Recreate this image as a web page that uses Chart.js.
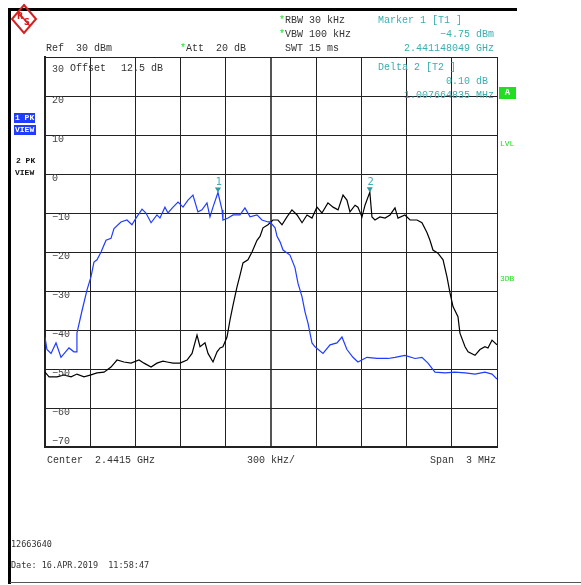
<!DOCTYPE html>
<html>
<head>
<meta charset="utf-8">
<script src="https://cdn.jsdelivr.net/npm/chart.js@4"></script>
<style>
  html, body { margin: 0; padding: 0; background: #fff; }
  #wrap { width: 581px; height: 585px; position: relative; }
</style>
</head>
<body>
<div id="wrap"><canvas id="sa" width="581" height="585"></canvas></div>
<script>
// frequency offsets in MHz from 2.440 GHz (span 3 MHz), levels in dBm
var trace1Freq = [0, 0.013, 0.040, 0.073, 0.106, 0.159, 0.192, 0.206, 0.212, 0.246, 0.279, 0.305, 0.325, 0.345, 0.372,
  0.405, 0.438, 0.458, 0.504, 0.544, 0.577, 0.604, 0.644, 0.670, 0.704, 0.743, 0.763, 0.796, 0.816, 0.850, 0.883,
  0.916, 0.949, 0.982, 1.015, 1.042, 1.075, 1.095, 1.115, 1.148, 1.175, 1.181, 1.215, 1.248, 1.294, 1.327, 1.361,
  1.407, 1.440, 1.480, 1.493, 1.527, 1.540, 1.560, 1.580, 1.626, 1.659, 1.679, 1.706, 1.726, 1.746, 1.772, 1.792,
  1.845, 1.892, 1.938, 1.971, 2.004, 2.044, 2.077, 2.137, 2.204, 2.277, 2.323, 2.389, 2.456, 2.502, 2.542, 2.588,
  2.655, 2.721, 2.788, 2.854, 2.920, 2.967, 3.0];
var trace1Level = [-41.8, -45, -46, -43.3, -47, -44.6, -45.6, -45.6, -40.8, -35, -29.7, -26.4, -22.6, -22, -20,
  -17, -16.5, -14, -12.3, -11.8, -13, -11.3, -9, -10, -12.5, -10.5, -11.3, -8.5, -10, -8.5, -7.2,
  -8.5, -6.7, -5.4, -9.7, -9.2, -7.4, -11, -8.5, -4.75, -9.2, -11.8, -11.3, -10.5, -10.5, -8.7, -11,
  -10.5, -11.8, -12.3, -12.3, -13.8, -16, -17.4, -19.5, -20.8, -24, -28, -31.5, -35.4, -38.3, -43.3, -44.3,
  -46, -43.8, -43.3, -41.8, -45, -47, -48.2, -47, -47.3, -47.3, -47, -46.5, -47.3, -47, -48.5, -50.8,
  -51, -50.8, -51, -51.3, -50.8, -51.3, -52.6];

var trace2Freq = [0, 0.027, 0.080, 0.126, 0.173, 0.212, 0.259, 0.305, 0.345, 0.392, 0.438, 0.478, 0.524, 0.571,
  0.624, 0.657, 0.704, 0.743, 0.783, 0.810, 0.850, 0.896, 0.943, 0.976, 1.009, 1.029, 1.062, 1.082, 1.115, 1.142,
  1.162, 1.181, 1.208, 1.228, 1.248, 1.274, 1.294, 1.314, 1.347, 1.374, 1.407, 1.427, 1.447, 1.480, 1.513, 1.546,
  1.573, 1.606, 1.639, 1.673, 1.706, 1.739, 1.772, 1.805, 1.838, 1.878, 1.912, 1.945, 1.978, 2.004, 2.024, 2.058,
  2.077, 2.104, 2.124, 2.156, 2.170, 2.190, 2.223, 2.257, 2.290, 2.323, 2.343, 2.389, 2.423, 2.469, 2.502, 2.535,
  2.555, 2.575, 2.608, 2.642, 2.668, 2.688, 2.708, 2.741, 2.754, 2.788, 2.808, 2.854, 2.887, 2.920, 2.940, 2.967, 3.0];
var trace2Level = [-50.8, -52, -52, -51.5, -52, -51.3, -52, -51.5, -51, -50.8, -49.5, -47.7, -48.2, -48.5,
  -47.7, -48.5, -49.5, -48.5, -48, -48.2, -48.5, -48.5, -47.7, -46, -41.3, -44.3, -43.3, -46, -48.2, -45.6,
  -44.6, -44.3, -41.8, -37.4, -33.6, -29, -26, -22.8, -22, -20, -17, -16, -13.8, -13, -11.8, -11.8,
  -13, -11, -9.2, -10.5, -12.5, -10.5, -11.3, -8.5, -10, -7.4, -8.5, -9.2, -5.4, -6.7, -9.7, -8,
  -8.5, -11, -8, -4.65, -11, -11.8, -11, -11.3, -10.5, -8.7, -11.3, -10.5, -11.8, -11.8, -12.5, -15,
  -17, -19.5, -20.3, -22, -26.4, -30.5, -34, -36.6, -40.8, -44.3, -45.6, -46.5, -45, -44.3, -44.6, -42.6, -43.8];

var yTickLabels = [30, 20, 10, 0, -10, -20, -30, -40, -50, -60, -70];
var markerFreq = [1.148049, 2.155714];
var markerLevel = [-4.75, -4.65];
var markerNames = ["1", "2"];

function toPoints(xs, ys) {
  var pts = [];
  for (var i = 0; i < xs.length; i++) pts.push({ x: xs[i], y: ys[i] });
  return pts;
}

var MONO = "10px 'Liberation Mono', monospace";
var TEAL = "#3aaeb0";
var GREEN = "#22dd22";

var overlay = {
  id: "overlay",
  afterDatasetsDraw: function (chart) {
    var c = chart.ctx, xs = chart.scales.x, ys = chart.scales.y;
    c.save();
    // y labels inside plot
    c.font = "10px 'Liberation Mono', monospace";
    c.fillStyle = "#444";
    c.textBaseline = "middle";
    c.textAlign = "left";
    yTickLabels.forEach(function (v, i) {
      var py = ys.getPixelForValue(v);
      if (v === 30) py += 12;
      else if (v === -70) py -= 6;
      else py += 4;
      var s = v < 0 ? "\u2212" + Math.abs(v) : String(v);
      c.fillText(s, 52, py);
    });
    c.fillStyle = "#333";
    c.fillText("Offset", 70, ys.getPixelForValue(30) + 11);
    c.fillText("12.5 dB", 121, ys.getPixelForValue(30) + 11);
    // markers
    for (var i = 0; i < markerFreq.length; i++) {
      var px = xs.getPixelForValue(markerFreq[i]);
      var py = ys.getPixelForValue(markerLevel[i]);
      c.fillStyle = "#2a9a9a";
      c.beginPath();
      c.moveTo(px - 3, py - 5);
      c.lineTo(px + 3, py - 5);
      c.lineTo(px, py);
      c.closePath();
      c.fill();
      c.fillStyle = TEAL;
      c.font = "10px 'DejaVu Sans', sans-serif";
      c.textAlign = "center";
      c.fillText(markerNames[i], px + 1, py - 10);
    }
    c.restore();
  },
  afterDraw: function (chart) {
    var c = chart.ctx;
    c.save();
    // page frame
    c.fillStyle = "#000";
    c.fillRect(8, 8, 509, 3);
    c.fillRect(8, 8, 3, 576);
    c.fillStyle = "#555";
    c.fillRect(10, 582, 571, 1);
    // logo
    c.strokeStyle = "#d42020";
    c.lineWidth = 2;
    c.beginPath();
    c.moveTo(24, 5); c.lineTo(36, 19); c.lineTo(24, 33); c.lineTo(12, 19); c.closePath();
    c.stroke();
    c.lineWidth = 1.5;
    c.beginPath();
    c.moveTo(18, 12); c.lineTo(30, 26);
    c.stroke();
    c.fillStyle = "#d42020";
    c.font = "bold 8px 'DejaVu Sans', sans-serif";
    c.textAlign = "center";
    c.textBaseline = "middle";
    c.fillText("R", 20, 17);
    c.fillText("S", 27, 23);

    c.font = MONO;
    c.textAlign = "left";
    c.textBaseline = "middle";
    c.fillStyle = "#333";
    c.fillText("Ref  30 dBm", 46, 48);
    c.fillText("Att  20 dB", 186, 48);
    c.fillText("RBW 30 kHz", 285, 20);
    c.fillText("VBW 100 kHz", 285, 34);
    c.fillText("SWT 15 ms", 285, 48);
    c.fillStyle = GREEN;
    c.fillText("*", 180, 48);
    c.fillText("*", 279, 20);
    c.fillText("*", 279, 34);

    c.fillStyle = TEAL;
    c.fillText("Marker 1 [T1 ]", 378, 20);
    c.fillText("Delta 2 [T2 ]", 378, 67);
    c.textAlign = "right";
    c.fillText("\u22124.75 dBm", 494, 34);
    c.fillText("2.441148049 GHz", 494, 48);
    c.fillText("0.10 dB", 488, 81);
    c.fillText("1.007664835 MHz", 494, 95);

    // right side annotations
    c.fillStyle = GREEN;
    c.fillRect(499, 87, 17, 12);
    c.fillStyle = "#fff";
    c.textAlign = "center";
    c.font = "bold 9px 'Liberation Mono', monospace";
    c.fillText("A", 507.5, 93);
    c.fillStyle = GREEN;
    c.font = "8px 'Liberation Mono', monospace";
    c.textAlign = "left";
    c.fillText("LVL", 500, 144);
    c.fillText("3DB", 500, 279);

    // trace labels on left
    c.fillStyle = "#1f3cff";
    c.fillRect(14, 113, 21, 10);
    c.fillRect(14, 125, 22, 10);
    c.fillStyle = "#fff";
    c.font = "bold 8px 'Liberation Mono', monospace";
    c.fillText("1 PK", 15, 118);
    c.fillText("VIEW", 15, 130);
    c.fillStyle = "#111";
    c.fillText("2 PK", 16, 161);
    c.fillText("VIEW", 15, 173);

    // bottom text
    c.font = MONO;
    c.fillStyle = "#333";
    c.fillText("Center  2.4415 GHz", 47, 460);
    c.fillText("300 kHz/", 247, 460);
    c.textAlign = "right";
    c.fillText("Span  3 MHz", 496, 460);
    c.textAlign = "left";
    c.font = "8.5px 'DejaVu Sans Mono', monospace";
    c.fillText("12663640", 11, 545);
    c.fillText("Date: 16.APR.2019  11:58:47", 11, 566);
    c.restore();
  }
};

var chart = new Chart(document.getElementById("sa").getContext("2d"), {
  type: "line",
  data: {
    datasets: [
      {
        label: "Trace 1",
        data: toPoints(trace1Freq, trace1Level),
        borderColor: "#1f3cff",
        borderWidth: 1.2,
        pointRadius: 0,
        tension: 0
      },
      {
        label: "Trace 2",
        data: toPoints(trace2Freq, trace2Level),
        borderColor: "#000",
        borderWidth: 1.2,
        pointRadius: 0,
        tension: 0
      }
    ]
  },
  options: {
    responsive: false,
    animation: false,
    devicePixelRatio: 1,
    layout: { padding: { left: 45, right: 84, top: 57, bottom: 138 } },
    plugins: { legend: { display: false }, tooltip: { enabled: false } },
    scales: {
      x: {
        type: "linear",
        min: 0,
        max: 3,
        ticks: { display: false, stepSize: 0.3 },
        grid: {
          drawTicks: false,
          color: function (ctx) { return ctx.index === 5 ? "#555" : "#222"; },
          lineWidth: function (ctx) { return ctx.index === 5 ? 2 : 1; }
        },
        border: { color: "#222", width: 2 }
      },
      y: {
        min: -70,
        max: 30,
        ticks: { display: false, stepSize: 10 },
        grid: { drawTicks: false, color: "#222", lineWidth: 1 },
        border: { color: "#222", width: 2 }
      }
    }
  },
  plugins: [overlay]
});
</script>
</body>
</html>
